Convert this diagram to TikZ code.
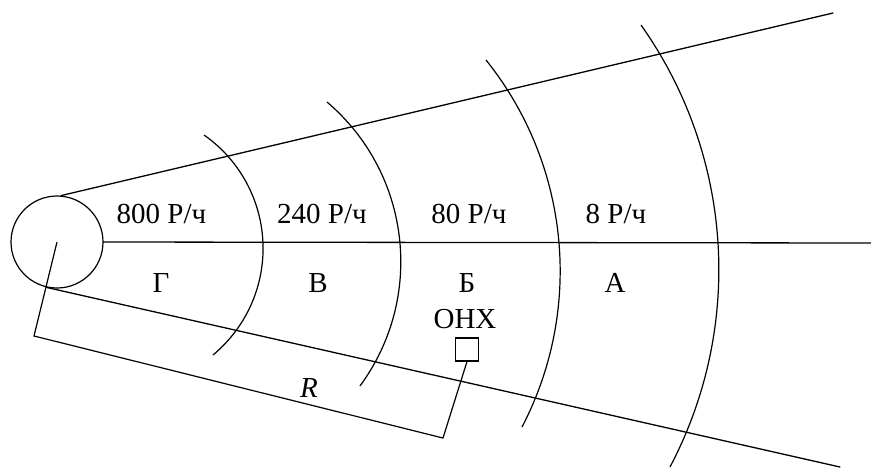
\documentclass[tikz,border=0pt]{standalone}
\usepackage{fontspec}
\setmainfont{Liberation Serif}
\begin{document}
\begin{tikzpicture}[x=1pt,y=1pt,
  ln/.style={line width=1.3pt, line cap=round},
  arcln/.style={line width=1.2pt},
  lbl/.style={anchor=base, inner sep=0pt, font=\fontsize{29}{34}\selectfont},
  srcnode/.style={circle, draw, line width=1.2pt, minimum size=92pt, inner sep=0pt},
  boxnode/.style={rectangle, draw, line width=1.1pt, minimum size=23pt, inner sep=0pt}]
\useasboundingbox (0,0) rectangle (871,-467);
% source
\node[srcnode] (src) at (57,-242) {};
% cone and axis
\coordinate (uend) at (833,-13);
\coordinate (lend) at (840,-467);
\coordinate (mend) at (871,-243);
\draw[ln] (src.85) -- (uend);
\draw[ln] (src.257) -- (lend);
\draw[ln] (src.east) -- (mend);
% zone boundaries
\draw[arcln] (204,-135) arc[start angle=55.03, end angle=-50.36, radius=138.4];
\draw[arcln] (327,-102) arc[start angle=49.62, end angle=-36.37, radius=209.6];
\draw[arcln] (486,-60) arc[start angle=38.72, end angle=-27.51, radius=337.5];
\draw[arcln] (641,-25) arc[start angle=35.31, end angle=-27.80, radius=423.2];
% dose rates
\node[lbl] (d800) at (161.5,-223) {800 Р/ч};
\node[lbl] (d240) at (322,-223) {240 Р/ч};
\node[lbl] (d80) at (469,-223) {80 Р/ч};
\node[lbl] (d8) at (616,-223) {8 Р/ч};
% zone letters
\node[lbl] (zG) at (161,-292) {Г};
\node[lbl] (zV) at (318,-292) {В};
\node[lbl] (zB) at (467,-292) {Б};
\node[lbl] (zA) at (615,-292) {А};
% object
\node[lbl] (ohx) at (465,-328) {ОНХ};
\node[boxnode] (box) at (467,-349.5) {};
% dimension R
\coordinate (e1) at (34,-336);
\coordinate (e2) at (443,-438);
\draw[arcln] (src.center) -- (e1) -- (e2) -- (box.south);
\node[lbl] (rlab) at (309,-397) {\itshape R};
\end{tikzpicture}
\end{document}
